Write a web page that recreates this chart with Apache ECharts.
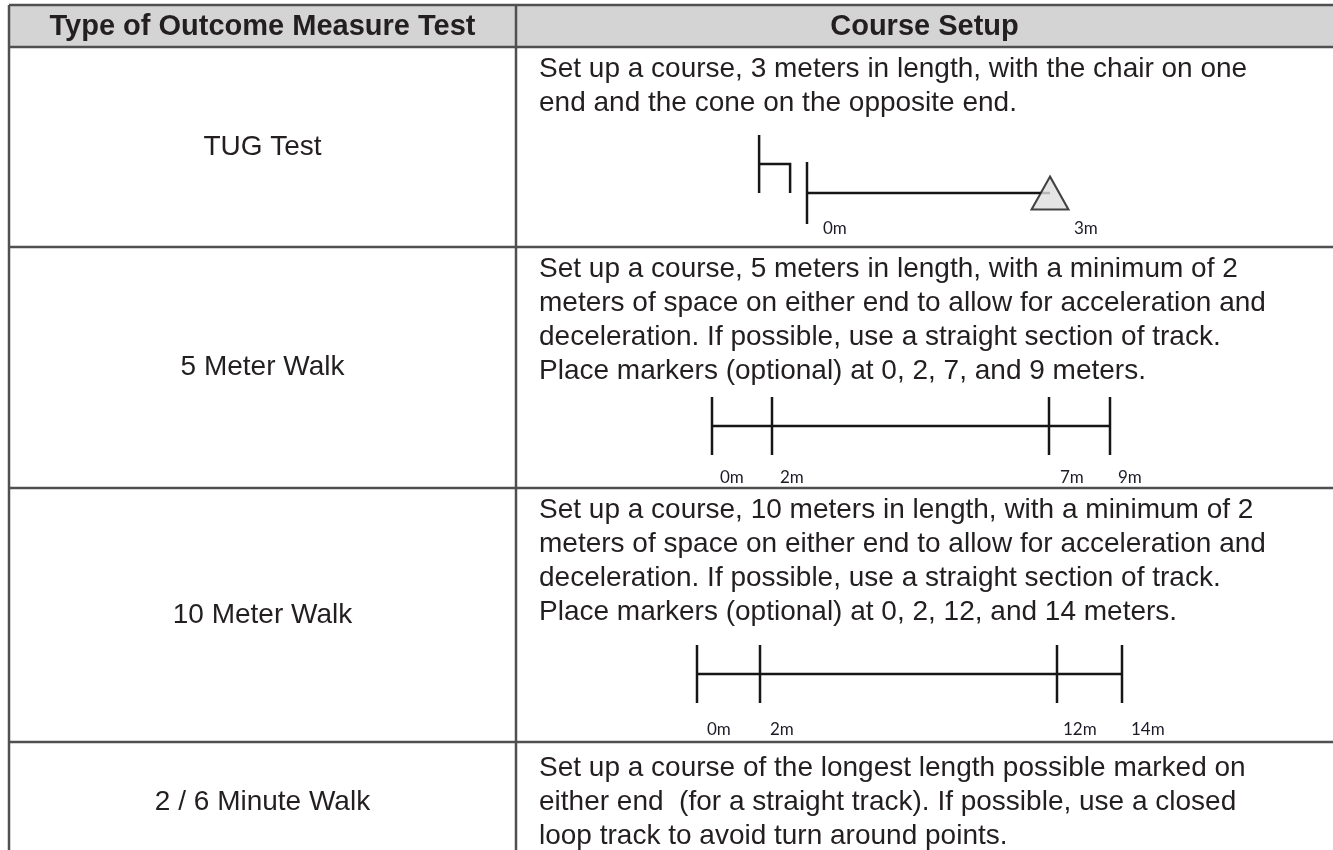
<!DOCTYPE html>
<html><head><meta charset="utf-8">
<script src="https://cdn.jsdelivr.net/npm/echarts@6/dist/echarts.min.js"></script>
<style>html,body{margin:0;padding:0;background:#fff}#c{width:1333px;height:850px}</style>
</head><body><div id="c"></div>
<script>
// ---------------- data ----------------
const headers = ['Type of Outcome Measure Test', 'Course Setup'];
const tests = ['TUG Test', '5 Meter Walk', '10 Meter Walk', '2 / 6 Minute Walk'];
const setupText = [
  ['Set up a course, 3 meters in length, with the chair on one',
   'end and the cone on the opposite end.'],
  ['Set up a course, 5 meters in length, with a minimum of 2',
   'meters of space on either end to allow for acceleration and',
   'deceleration. If possible, use a straight section of track.',
   'Place markers (optional) at 0, 2, 7, and 9 meters.'],
  ['Set up a course, 10 meters in length, with a minimum of 2',
   'meters of space on either end to allow for acceleration and',
   'deceleration. If possible, use a straight section of track.',
   'Place markers (optional) at 0, 2, 12, and 14 meters.'],
  ['Set up a course of the longest length possible marked on',
   'either end  (for a straight track). If possible, use a closed',
   'loop track to avoid turn around points.']
];
const tugMarkers = [0, 3];        // metres: start line, cone
const tugLines = [0];             // markers drawn as a tick line
const coneAt = [3];               // cone position (m)
const chairAt = [-0.4];           // chair just behind the start line (m)
const walk5Markers = [0, 2, 7, 9];
const walk10Markers = [0, 2, 12, 14];

// ---------------- layout / style ----------------
const FONT = '"Liberation Sans", Arial, Helvetica, sans-serif';
const LABEL_FONT = 'Lato, "Liberation Sans", sans-serif';
const TEXT = '#231f20';
const BORDER = '#505050';
const INK = '#161616';
const table = { left: 9, right: 1345, split: 516, rowEdges: [5, 47, 247, 488, 742, 900] };
const body = { x: 539, lineH: 34, firstLine: [69, 269, 510, 768], size: 28 };
const testY = [147, 367, 615, 802];

const diagrams = [
  { markers: tugMarkers, lines: tugLines, px: [807, 1050], trackY: 193, half: 31,
    labelDx: [16, 24], labelDy: 36, cone: coneAt, chair: chairAt },
  { markers: walk5Markers, lines: walk5Markers, px: [712, 772, 1049, 1110], trackY: 426, half: 29,
    labelDx: [8, 8, 11, 8], labelDy: 52 },
  { markers: walk10Markers, lines: walk10Markers, px: [697, 760, 1057, 1122], trackY: 674, half: 29,
    labelDx: [10, 10, 6, 9], labelDy: 56 }
];

const grids = [], xAxes = [], yAxes = [], series = [];
diagrams.forEach(d => {
  const k = d.markers.length - 1;
  const segIdx = [];
  for (let i = 0; i < k; i++) {
    const gi = grids.length;
    segIdx.push(gi);
    grids.push({ left: d.px[i], width: d.px[i + 1] - d.px[i], top: d.trackY - d.half, height: 2 * d.half });
    xAxes.push({ type: 'value', gridIndex: gi, min: d.markers[i], max: d.markers[i + 1], show: false });
    yAxes.push({ type: 'value', gridIndex: gi, min: -1, max: 1, show: false });
    series.push({
      type: 'line', xAxisIndex: gi, yAxisIndex: gi, silent: true, showSymbol: false, animation: false,
      data: [[d.markers[i], 0], [d.markers[i + 1], 0]],
      lineStyle: { color: INK, width: 2.5 }, z: 2
    });
  }
  d.markers.forEach((m, j) => {
    const gi = segIdx[Math.min(j, k - 1)];
    const drawLine = d.lines.indexOf(m) >= 0;
    const dx = d.labelDx[j], dy = d.labelDy;
    series.push({
      type: 'custom', xAxisIndex: gi, yAxisIndex: gi, silent: true, animation: false, clip: false, z: 3,
      data: [[m, 0]],
      renderItem: (params, api) => {
        const x = api.value(0);
        const top = api.coord([x, 1]), bot = api.coord([x, -1]), mid = api.coord([x, 0]);
        const children = [];
        if (drawLine) children.push({ type: 'line', shape: { x1: top[0], y1: top[1], x2: bot[0], y2: bot[1] },
          style: { stroke: INK, lineWidth: 2.5 } });
        children.push({ type: 'text', style: { text: x + 'm', x: mid[0] + dx, y: mid[1] + dy,
          font: '17px ' + LABEL_FONT, fill: '#1c1c28', textAlign: 'left', textVerticalAlign: 'middle' } });
        return { type: 'group', children };
      }
    });
  });
  if (d.cone) {
    const gi = segIdx[k - 1];
    series.push({
      type: 'scatter', xAxisIndex: gi, yAxisIndex: gi, silent: true, animation: false, z: 4,
      data: d.cone.map(v => [v, 0]), symbol: 'triangle', symbolSize: [37, 33],
      itemStyle: { color: '#dedede', borderColor: INK, borderWidth: 2 }
    });
  }
  if (d.chair) {
    const gi = segIdx[0];
    series.push({
      type: 'custom', xAxisIndex: gi, yAxisIndex: gi, silent: true, animation: false, clip: false, z: 3,
      data: d.chair.map(v => [v, 0]),
      renderItem: (params, api) => {
        const p = api.coord([api.value(0), 0]);
        const w = 15.5, back = 58, seat = 29;
        const st = { stroke: INK, lineWidth: 2.5, fill: null };
        return { type: 'group', children: [
          { type: 'polyline', shape: { points: [[p[0] - w, p[1] - back], [p[0] - w, p[1]]] }, style: st },
          { type: 'polyline', shape: { points: [[p[0] - w, p[1] - seat], [p[0] + w, p[1] - seat], [p[0] + w, p[1]]] }, style: st }
        ] };
      }
    });
  }
});

// ---------------- table (graphic) ----------------
const g = [];
g.push({ type: 'rect', shape: { x: table.left, y: table.rowEdges[0], width: table.right - table.left, height: table.rowEdges[1] - table.rowEdges[0] },
  style: { fill: '#d4d4d4' }, z: 0 });
table.rowEdges.forEach(y => g.push({ type: 'line', shape: { x1: table.left, y1: y, x2: table.right, y2: y },
  style: { stroke: BORDER, lineWidth: 2.5 }, z: 1 }));
[table.left, table.split].forEach(x => g.push({ type: 'line', shape: { x1: x, y1: table.rowEdges[0], x2: x, y2: 900 },
  style: { stroke: BORDER, lineWidth: 2.5 }, z: 1 }));
const headY = (table.rowEdges[0] + table.rowEdges[1]) / 2 + 1;
g.push({ type: 'text', style: { text: headers[0], x: (table.left + table.split) / 2, y: headY,
  font: 'bold 29px ' + FONT, fill: TEXT, textAlign: 'center', textVerticalAlign: 'middle' }, z: 2 });
g.push({ type: 'text', style: { text: headers[1], x: (table.split + 1333) / 2, y: headY,
  font: 'bold 29px ' + FONT, fill: TEXT, textAlign: 'center', textVerticalAlign: 'middle' }, z: 2 });
tests.forEach((t, i) => g.push({ type: 'text', style: { text: t, x: (table.left + table.split) / 2, y: testY[i],
  font: body.size + 'px ' + FONT, fill: TEXT, textAlign: 'center', textVerticalAlign: 'middle' }, z: 2 }));
setupText.forEach((lines, i) => lines.forEach((ln, j) => g.push({ type: 'text', style: { text: ln, x: body.x,
  y: body.firstLine[i] + j * body.lineH, font: body.size + 'px ' + FONT, fill: TEXT, textAlign: 'left',
  textVerticalAlign: 'middle' }, z: 2 })));

const chart = echarts.init(document.getElementById('c'));
chart.setOption({
  backgroundColor: '#ffffff',
  animation: false,
  grid: grids, xAxis: xAxes, yAxis: yAxes, series: series,
  graphic: g
});
</script></body></html>
